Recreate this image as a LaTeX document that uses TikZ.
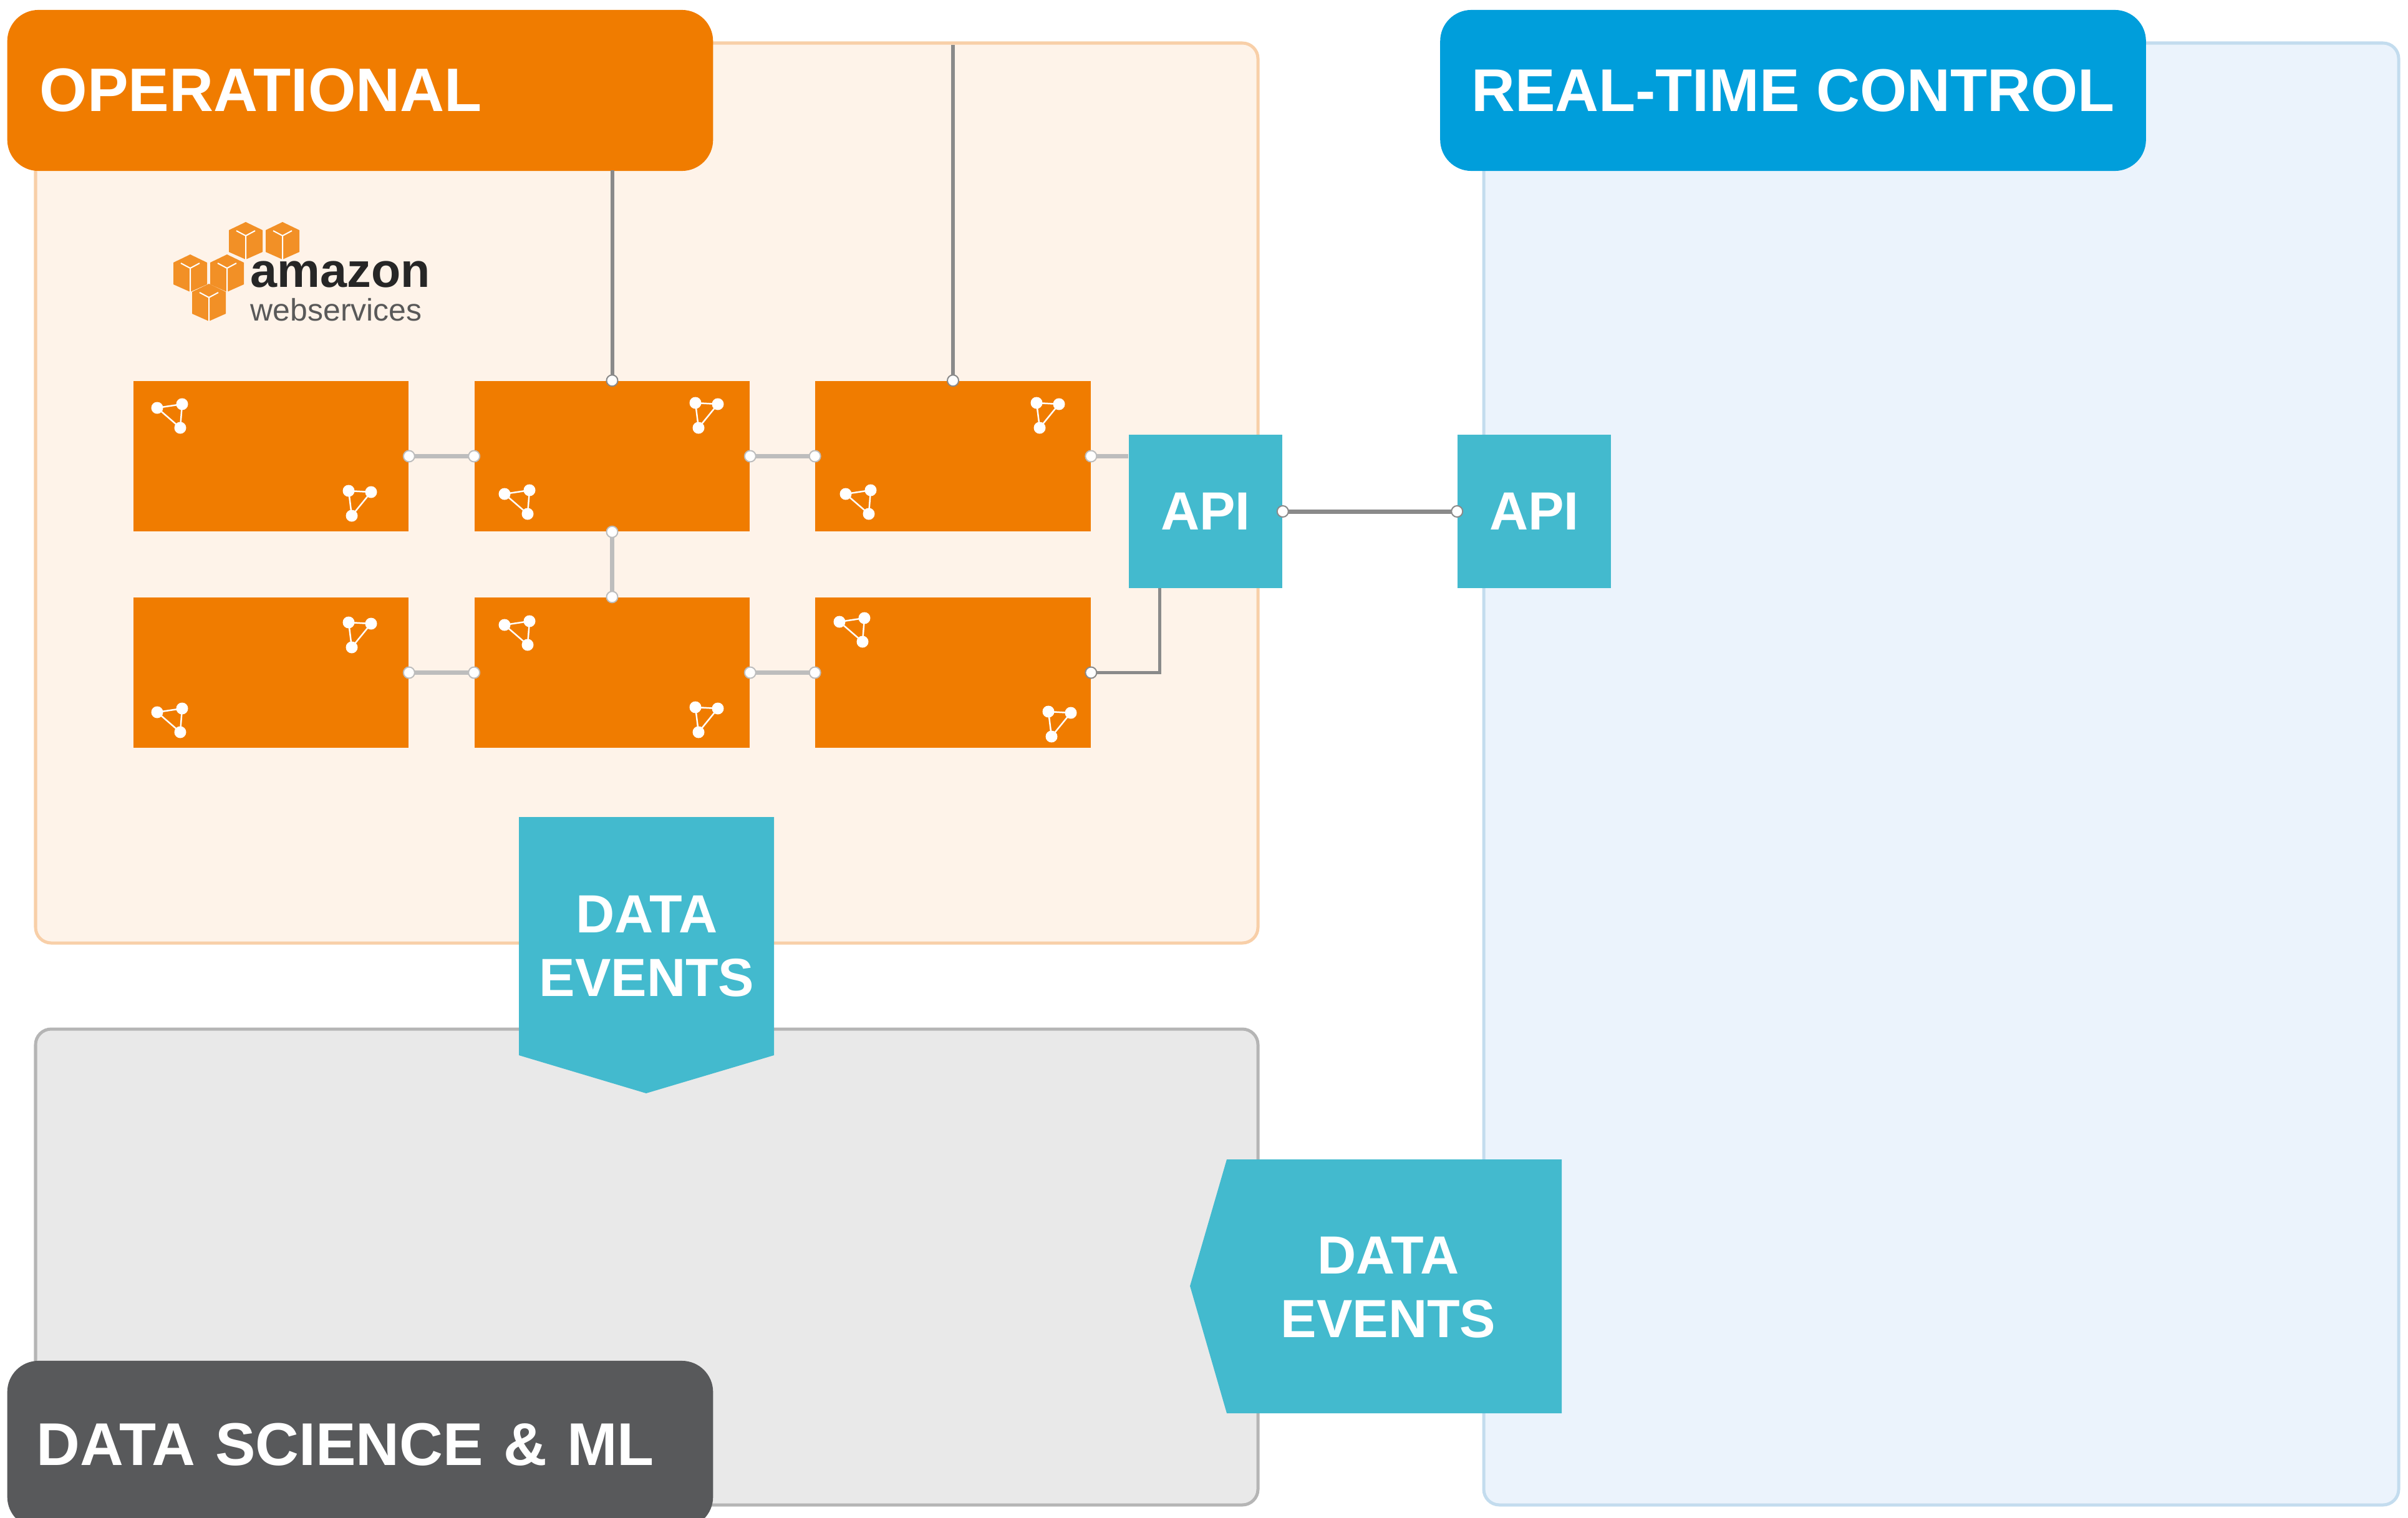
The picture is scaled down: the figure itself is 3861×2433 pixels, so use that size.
\documentclass[tikz,border=0pt]{standalone}
\usepackage{fontspec}
\usepackage{tikz}
\usetikzlibrary{arrows.meta}
\setmainfont{Liberation Sans}
\definecolor{opsorange}{HTML}{F07C00}
\definecolor{opspanel}{HTML}{FEF3E9}
\definecolor{opsborder}{HTML}{F8CFA8}
\definecolor{apiteal}{HTML}{43BACE}
\definecolor{dspanel}{HTML}{E9E9E9}
\definecolor{dsborder}{HTML}{B5B5B5}
\definecolor{dshead}{HTML}{58595B}
\definecolor{rtpanel}{HTML}{EBF3FC}
\definecolor{rtborder}{HTML}{C3DCEE}
\definecolor{rthead}{HTML}{009EDB}
\definecolor{linklight}{HTML}{BDBDBD}
\definecolor{linkdark}{HTML}{8A8A8A}
\tikzset{
  panel/.style={rounded corners=.25cm, line width=.05cm},
  header/.style={rounded corners=.5cm, text=white, inner xsep=0pt, minimum width=11.31cm,
    minimum height=2.58cm, font=\fontsize{27.5}{32}\selectfont\bfseries},
  svcbox/.style={fill=opsorange, minimum width=4.41cm, minimum height=2.41cm, inner sep=0pt},
  apibox/.style={fill=apiteal, text=white, minimum width=2.46cm, minimum height=2.46cm,
    inner sep=0pt, font=\fontsize{24.5}{28}\selectfont\bfseries},
  eventlabel/.style={text=white, align=center, font=\fontsize{24.5}{29}\selectfont\bfseries},
  port/.tip={Circle[open, fill=white, length=.2cm, width=.2cm, line width=.02cm]},
  link/.style={draw=linklight, line width=.07cm, port-port, shorten <=-.1cm, shorten >=-.1cm},
  feed/.style={draw=linkdark, line width=.06cm, -port, shorten >=-.1cm},
}
\newcommand{\hubleft}[2]{
\begin{scope}[shift={(#1,#2)}, white]
\draw[line width=.025cm] (-21,-8) -- (19,-14) -- (16,24) -- cycle;
\fill (-21,-8) circle (.095cm);
\fill (19,-14) circle (.095cm);
\fill (16,24) circle (.095cm);
\end{scope}}
\newcommand{\hubright}[2]{
\begin{scope}[shift={(#1,#2)}, white]
\draw[line width=.025cm] (-18,-14) -- (18,-12) -- (-13,26) -- cycle;
\fill (-18,-14) circle (.095cm);
\fill (18,-12) circle (.095cm);
\fill (-13,26) circle (.095cm);
\end{scope}}
\newcommand{\awscube}[2]{
\begin{scope}[shift={(#1,#2)}]
\fill[opsorange!85!white] (-27,-17) -- (0,-30) -- (27,-17) -- (27,18) -- (0,30) -- (-27,18) -- cycle;
\draw[white, line width=.02cm] (-15,-16) -- (0,-8) -- (15,-16) (0,-8) -- (0,30);
\end{scope}}
\begin{document}
\begin{tikzpicture}[x=.01cm, y=-.01cm]
\useasboundingbox (0,0) rectangle (3861,2433);
\draw[panel, fill=opspanel, draw=opsborder] (57,69) rectangle (2017,1512);
\draw[panel, fill=dspanel, draw=dsborder] (57,1650) rectangle (2017,2413);
\draw[panel, fill=rtpanel, draw=rtborder] (2379,69) rectangle (3846,2413);
\node[header, fill=opsorange, text width=10.27cm, align=left, font=\fontsize{28}{32}\selectfont\bfseries] (opshead) at (577.5,145) {OPERATIONAL};
\node[header, fill=rthead, align=center] (rthead) at (2875,145) {REAL-TIME CONTROL};
\node[header, fill=dshead, text width=10.37cm, align=left, minimum height=2.68cm] (dshead) at (577.5,2316) {DATA SCIENCE \& ML};
\awscube{394}{386}
\awscube{453}{386}
\awscube{305}{438}
\awscube{364}{438}
\awscube{335}{485}
\node[inner sep=0pt, text=black!85, anchor=base west, font=\fontsize{22}{24}\selectfont\bfseries] (awsname) at (401,460) {amazon};
\node[inner sep=0pt, text=black!65, anchor=base west, font=\fontsize{14.2}{16}\selectfont] (awssub) at (401,514) {webservices};
\node[svcbox] (svc1) at (434.5,731.5) {};
\node[svcbox] (svc2) at (981.5,731.5) {};
\node[svcbox] (svc3) at (1528,731.5) {};
\node[svcbox] (svc4) at (434.5,1078.5) {};
\node[svcbox] (svc5) at (981.5,1078.5) {};
\node[svcbox] (svc6) at (1528,1078.5) {};
\hubleft{273}{662}
\hubright{577}{801}
\hubright{1133}{660}
\hubleft{830}{800}
\hubright{1680}{660}
\hubleft{1377}{800}
\hubright{577}{1012}
\hubleft{273}{1150}
\hubleft{830}{1010}
\hubright{1133}{1148}
\hubleft{1367}{1005}
\hubright{1699}{1155}
\coordinate (opsfeed) at (981.5,273);
\coordinate (rootfeed) at (1528,72);
\node[apibox] (apiops) at (1933,820) {API};
\node[apibox] (apirt) at (2460,820) {API};
\coordinate (apifeed) at (1859,943);
\draw[feed] (opsfeed) -- (svc2.north);
\draw[feed] (rootfeed) -- (svc3.north);
\draw[link] (svc1.east) -- (svc2.west);
\draw[link] (svc2.east) -- (svc3.west);
\draw[link] (svc4.east) -- (svc5.west);
\draw[link] (svc5.east) -- (svc6.west);
\draw[link] (svc2.south) -- (svc5.north);
\draw[link, -, {port}-, shorten >=0pt] (svc3.east) -- (svc3.east -| apiops.west);
\draw[link, draw=linkdark, line width=.05cm, -, {port}-, shorten >=0pt] (svc6.east) -| (apifeed);
\draw[link, draw=linkdark] (apiops.east) -- (apirt.west);
\fill[apiteal] (832,1310) -- (1241,1310) -- (1241,1692) -- (1036,1753) -- (832,1692) -- cycle;
\node[eventlabel] (eventsdown) at (1037,1517) {DATA\\EVENTS};
\fill[apiteal] (2504,1859) -- (2504,2266) -- (1967,2266) -- (1908,2062) -- (1967,1859) -- cycle;
\node[eventlabel] (eventsleft) at (2226,2064) {DATA\\EVENTS};
\end{tikzpicture}
\end{document}
